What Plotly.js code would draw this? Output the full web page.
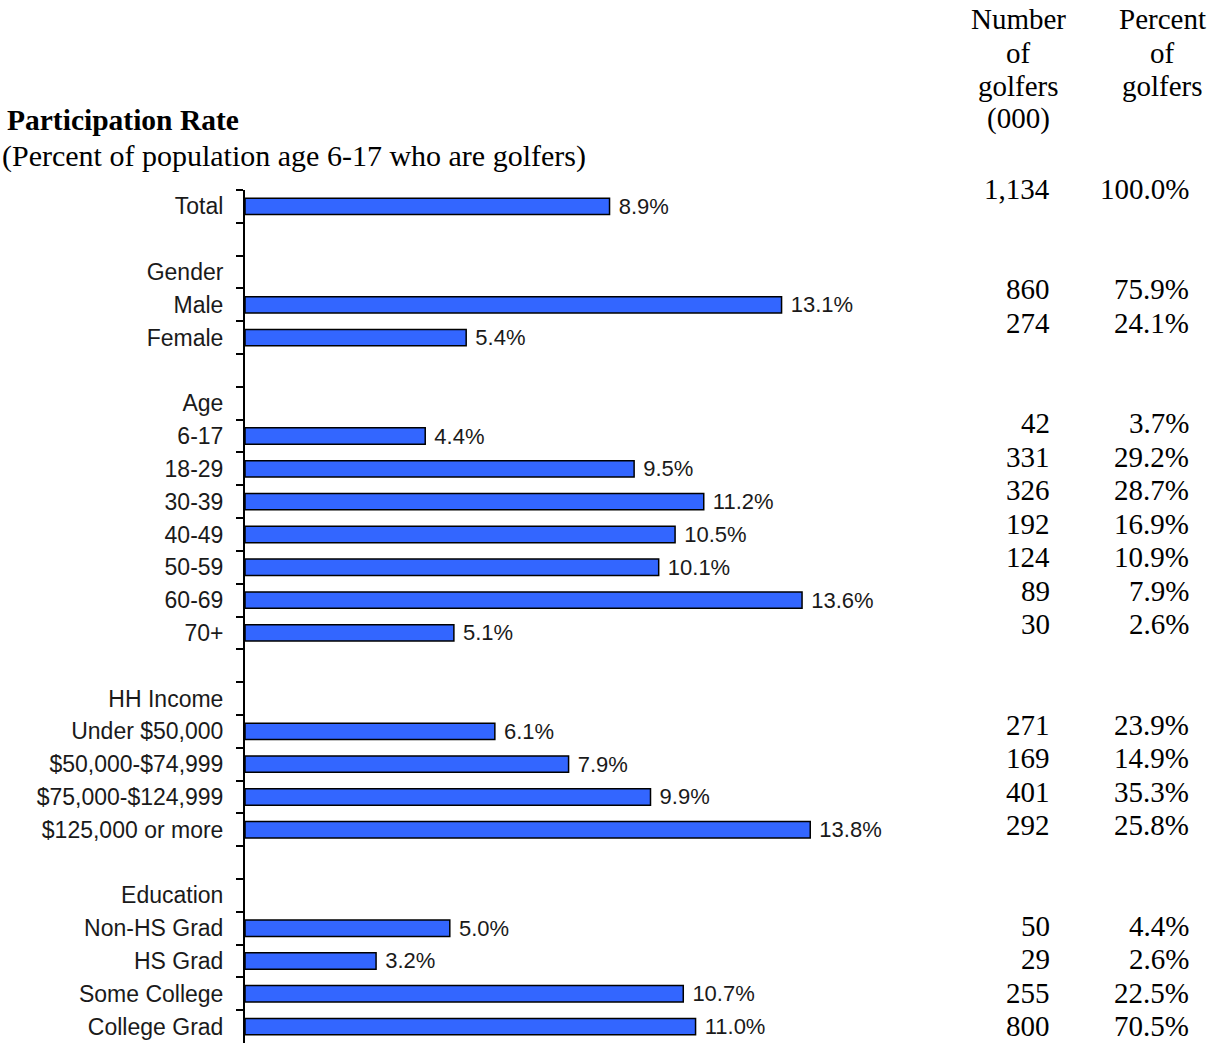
<!DOCTYPE html>
<html>
<head>
<meta charset="utf-8">
<script src="https://cdn.plot.ly/plotly-3.0.1.min.js"></script>
<style>
  html, body { margin: 0; padding: 0; background: #fff; }
  #chart { width: 1212px; height: 1044px; }
</style>
</head>
<body>
<div id="chart"></div>
<script>
// ---- data ----
const categories = ['Total', ' ', 'Gender', 'Male', 'Female', '  ', 'Age', '6-17', '18-29', '30-39',
  '40-49', '50-59', '60-69', '70+', '   ', 'HH Income', 'Under $50,000', '$50,000-$74,999',
  '$75,000-$124,999', '$125,000 or more', '    ', 'Education', 'Non-HS Grad', 'HS Grad',
  'Some College', 'College Grad'];
const rates = [8.9, null, null, 13.1, 5.4, null, null, 4.4, 9.5, 11.2,
  10.5, 10.1, 13.6, 5.1, null, null, 6.1, 7.9,
  9.9, 13.8, null, null, 5.0, 3.2,
  10.7, 11.0];
const golfers = ['1,134', null, null, '860', '274', null, null, '42', '331', '326',
  '192', '124', '89', '30', null, null, '271', '169',
  '401', '292', null, null, '50', '29',
  '255', '800'];
const pctGolfers = ['100.0%', null, null, '75.9%', '24.1%', null, null, '3.7%', '29.2%', '28.7%',
  '16.9%', '10.9%', '7.9%', '2.6%', null, null, '23.9%', '14.9%',
  '35.3%', '25.8%', null, null, '4.4%', '2.6%',
  '22.5%', '70.5%'];
const tableColumns = ['num', 'pct'];
const numHeader = ['Number', 'of', 'golfers', '(000)'];
const pctHeader = ['Percent', 'of', 'golfers'];
const titleText = 'Participation Rate';
const subtitleText = '(Percent of population age 6-17 who are golfers)';

// ---- styling ----
const W = 1212, H = 1044;
const sans = 'Liberation Sans, Arial, sans-serif';
const serif = 'Liberation Serif, Times New Roman, serif';
const py = px => (H - px) / H;   // pixel row -> paper fraction
const pxf = px => px / W;

const barTrace = {
  type: 'bar', orientation: 'h',
  y: categories, x: rates,
  text: rates.map(v => v == null ? '' : '\u00a0' + v.toFixed(1) + '%'),
  textposition: 'outside', constraintext: 'none', cliponaxis: false,
  textfont: { family: sans, size: 22, color: '#1a1a1a' },
  marker: { color: '#3366ff', line: { color: '#000000', width: 1.5 } },
  width: 0.5, hoverinfo: 'skip', showlegend: false
};
const tableAnchor = {
  type: 'scatter', mode: 'markers', x: ['num'], y: [categories[0]],
  xaxis: 'x2', yaxis: 'y2', marker: { opacity: 0 }, hoverinfo: 'skip', showlegend: false
};

const annotations = [];
categories.forEach((c, i) => {
  if (golfers[i] != null) {
    annotations.push({ xref: 'x2', yref: 'y2', x: tableColumns[0], y: c, text: golfers[i],
      xanchor: 'right', xshift: 33, yanchor: 'middle', showarrow: false,
      font: { family: serif, size: 29, color: '#000' } });
  }
  if (pctGolfers[i] != null) {
    annotations.push({ xref: 'x2', yref: 'y2', x: tableColumns[1], y: c, text: pctGolfers[i],
      xanchor: 'right', xshift: 28, yanchor: 'middle', showarrow: false,
      font: { family: serif, size: 29, color: '#000' } });
  }
});
const headerCenters = [19, 52.5, 86, 119];
numHeader.forEach((t, k) => annotations.push({ xref: 'x2', yref: 'paper', x: tableColumns[0],
  y: py(headerCenters[k]), text: t, xanchor: 'center', yanchor: 'middle', showarrow: false,
  font: { family: serif, size: 29, color: '#000' } }));
pctHeader.forEach((t, k) => annotations.push({ xref: 'x2', yref: 'paper', x: tableColumns[1],
  y: py(headerCenters[k]), text: t, xanchor: 'center', yanchor: 'middle', showarrow: false,
  font: { family: serif, size: 29, color: '#000' } }));
annotations.push({ xref: 'paper', yref: 'paper', x: pxf(5), y: py(120), text: '<b>' + titleText + '</b>',
  xanchor: 'left', yanchor: 'middle', showarrow: false, font: { family: serif, size: 29.5, color: '#000' } });
annotations.push({ xref: 'paper', yref: 'paper', x: pxf(0), y: py(156), text: subtitleText,
  xanchor: 'left', yanchor: 'middle', showarrow: false, font: { family: serif, size: 30, color: '#000' } });

const layout = {
  width: W, height: H,
  margin: { l: 0, r: 0, t: 0, b: 0 },
  paper_bgcolor: '#ffffff', plot_bgcolor: 'rgba(0,0,0,0)',
  showlegend: false,
  xaxis: { domain: [pxf(245), pxf(945)], range: [0, 17.09], visible: false, fixedrange: true },
  yaxis: {
    type: 'category', categoryorder: 'array', categoryarray: categories,
    range: [25.5, -0.5], domain: [py(1043), py(190)], anchor: 'x',
    showline: true, linecolor: '#000', linewidth: 2,
    ticks: 'outside', tickson: 'boundaries', ticklen: 7, tickwidth: 2, tickcolor: '#000',
    ticklabelstandoff: 15,
    showgrid: false, zeroline: false, automargin: false, fixedrange: true,
    tickfont: { family: sans, size: 23, color: '#1a1a1a' }
  },
  xaxis2: { type: 'category', categoryorder: 'array', categoryarray: tableColumns,
    range: [-0.5, 1.3], domain: [pxf(947), pxf(1206)], anchor: 'y2', visible: false, fixedrange: true },
  yaxis2: { type: 'category', categoryorder: 'array', categoryarray: categories,
    range: [(H - 188.5) / 33.5, -188.5 / 33.5], domain: [0, 1], anchor: 'x2', visible: false, fixedrange: true },
  annotations: annotations
};

Plotly.newPlot('chart', [barTrace, tableAnchor], layout, { displayModeBar: false, staticPlot: true });
</script>
</body>
</html>
